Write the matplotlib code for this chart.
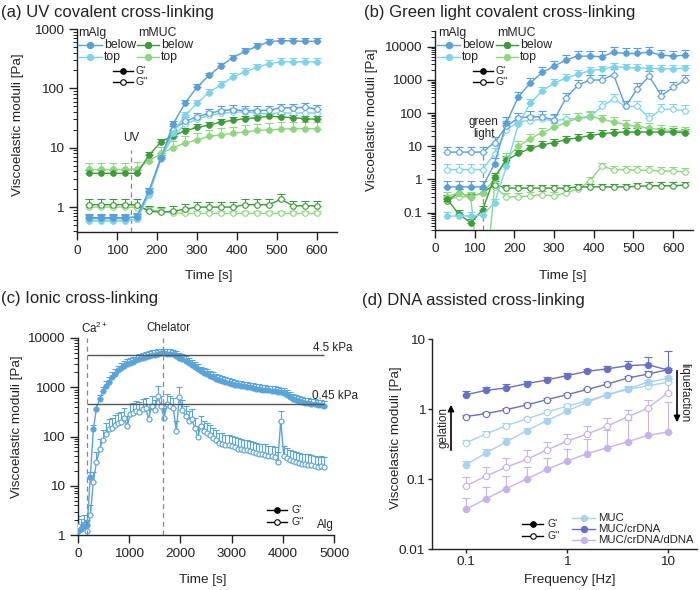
import numpy as np
import matplotlib
matplotlib.use("Agg")
import matplotlib.pyplot as plt
from matplotlib.lines import Line2D
from matplotlib.patches import FancyArrowPatch
from matplotlib.ticker import LogLocator, NullFormatter, FixedLocator, NullLocator

plt.rcParams['font.family'] = ['Liberation Sans', 'DejaVu Sans']
plt.rcParams['mathtext.fontset'] = 'custom'
plt.rcParams['mathtext.rm'] = 'Liberation Sans'
plt.rcParams['mathtext.it'] = 'Liberation Sans:italic'
plt.rcParams['mathtext.bf'] = 'Liberation Sans:bold'

# ---------------- data ----------------
# (a) UV covalent cross-linking
a_time = [30, 60, 90, 120, 150, 180, 210, 240, 270, 300, 330, 360, 390, 420, 450, 480, 510, 540, 570, 600]
a_alg_below_G1 = [0.65, 0.65, 0.65, 0.66, 0.68, 1.9, 6.6, 25, 56, 105, 165, 240, 330, 420, 510, 610, 640, 630, 620, 620]
a_alg_top_G1 = [0.58, 0.58, 0.58, 0.59, 0.62, 1.6, 6.5, 18, 35, 56, 85, 115, 155, 190, 225, 260, 280, 280, 280, 280]
a_alg_below_G2 = [0.66, 0.66, 0.66, 0.66, 0.68, 1.8, 7, 20, 28, 33, 38, 42, 44, 42, 42, 43, 47, 47, 48, 45]
a_alg_top_G2 = [0.6, 0.6, 0.6, 0.6, 0.62, 1.7, 7, 15, 25, 30, 35, 38, 40, 40, 38, 37, 39, 38, 39, 38]
a_muc_below_G1 = [3.7, 3.7, 3.7, 3.7, 3.7, 7.5, 12.5, 16, 19, 22, 24, 27, 29, 31, 32, 34, 33, 32, 31, 30]
a_muc_top_G1 = [4.3, 4.3, 4.3, 4.3, 4.4, 6, 8, 10, 12, 13.5, 15.5, 16.5, 17.5, 18.5, 19.5, 20, 20.5, 21, 21, 21]
a_muc_below_G2 = [1.1, 1.1, 1.1, 1.1, 1.1, 0.85, 0.82, 0.85, 0.92, 1.0, 1.0, 1.0, 1.0, 1.1, 1.1, 1.1, 1.35, 1.05, 1.05, 1.05]
a_muc_top_G2 = [1.0, 1.0, 1.0, 1.0, 0.98, 0.9, 0.85, 0.8, 0.78, 0.78, 0.78, 0.78, 0.78, 0.78, 0.78, 0.78, 0.78, 0.78, 0.78, 0.78]
a_rel_err = {'alg_below_G1': 0.12, 'alg_top_G1': 0.15, 'alg_below_G2': 0.18, 'alg_top_G2': 0.18,
             'muc_below_G1': 0.12, 'muc_top_G1': 0.3, 'muc_below_G2': 0.22, 'muc_top_G2': 0.12}
a_uv_time = 135

# (b) Green light covalent cross-linking
b_time = [30, 60, 90, 120, 150, 180, 210, 240, 270, 300, 330, 360, 390, 420, 450, 480, 510, 540, 570, 600, 630]
b_alg_below_G1 = [0.6, 0.6, 0.6, 0.6, 3, 52, 310, 810, 1700, 2600, 4000, 5300, 5200, 5100, 6800, 6300, 6300, 7000, 5600, 5300, 5600]
b_alg_top_G1 = [0.078, 0.08, 0.08, 0.085, 0.2, 2.5, 46, 200, 470, 800, 1150, 1500, 1900, 2100, 2500, 2400, 2300, 2250, 2200, 2200, 2250]
b_alg_below_G2 = [6.7, 6.7, 6.7, 6.7, 13, 40, 72, 78, 78, 63, 285, 700, 1000, 1000, 1450, 160, 550, 1300, 335, 600, 1000]
b_alg_top_G2 = [2.0, 2.0, 2.0, 2.0, 6, 31, 55, 60, 65, 60, 65, 70, 75, 160, 265, 160, 160, 70, 130, 130, 120]
b_muc_below_G1 = [0.26, 0.09, 0.05, 0.12, 1.2, 3.8, 6.1, 8.7, 11, 13, 16, 18, 21, 24, 26, 27, 27, 27, 27, 27, 26]
b_muc_top_G1 = [0.3, 0.4, 0.3, 0.4, 1.0, 4.5, 10, 17, 26, 37, 52, 70, 83, 65, 55, 45, 40, 35, 32, 30, 28]
b_muc_below_G2 = [0.22, 0.4, 0.3, 0.4, 0.7, 0.55, 0.55, 0.55, 0.55, 0.55, 0.55, 0.6, 0.6, 0.6, 0.6, 0.6, 0.62, 0.65, 0.65, 0.65, 0.68]
b_muc_top_G2 = [0.25, 0.3, 0.3, 1e-4, 0.6, 0.3, 0.3, 0.32, 0.35, 0.32, 0.4, 0.5, 0.9, 2.5, 2.0, 2.0, 1.9, 1.9, 1.8, 1.8, 1.7]
b_rel_err = {'alg_below_G1': 0.45, 'alg_top_G1': 0.3, 'alg_below_G2': 0.45, 'alg_top_G2': 0.45,
             'muc_below_G1': 0.3, 'muc_top_G1': 0.4, 'muc_below_G2': 0.25, 'muc_top_G2': 0.3}
b_light_time = 120

# (c) Ionic cross-linking
c_time = list(range(0, 4801, 60))
c_G1 = [1.2, 1.3, 1.5, 1.6, 15, 140, 370, 570, 820, 1050,
        1280, 1620, 1900, 2200, 2450, 2750, 2950, 3150, 3300, 3550,
        3750, 3950, 4150, 4350, 4500, 4600, 4750, 4850, 4850, 4800,
        4750, 4650, 4400, 3950, 3700, 3400, 3100, 2800, 2550, 2350,
        2100, 1950, 1850, 1720, 1620, 1500, 1420, 1350, 1280, 1210,
        1170, 1130, 1090, 1060, 1040, 1020, 990, 960, 940, 910,
        890, 870, 860, 840, 830, 810, 790, 760, 700, 640,
        590, 550, 520, 500, 490, 475, 465, 455, 445, 435,
        425]
c_G2 = [1.5, 1.3, 1.6, 1.2, 2.5, 12, 30, 55, 85, 115,
        140, 150, 170, 185, 200, 240, 160, 280, 300, 330,
        310, 360, 380, 230, 420, 350, 650, 420, 240, 450,
        420, 380, 130, 640, 340, 260, 210, 230, 150, 100,
        160, 130, 120, 105, 95, 85, 75, 72, 68, 66,
        63, 60, 57, 55, 54, 52, 50, 48, 46, 45,
        44, 43, 41, 40, 38, 30, 210, 40, 36, 34,
        32, 30, 29, 28, 28, 27, 26, 25, 24, 25,
        24]
c_rel_err_G1 = 0.25
c_rel_err_G2 = 0.6
c_ca_time = 170
c_chelator_time = 1660
c_levels = [4500, 450]
c_level_labels = ['4.5 kPa', '0.45 kPa']

# (d) DNA assisted cross-linking
d_freq = [0.1, 0.158, 0.251, 0.398, 0.631, 1.0, 1.58, 2.51, 3.98, 6.31, 10.0]
d_muc_G1 = [0.16, 0.236, 0.34, 0.49, 0.68, 0.93, 1.25, 1.6, 1.95, 2.4, 2.75]
d_muc_G2 = [0.33, 0.44, 0.58, 0.72, 0.9, 1.1, 1.3, 1.6, 1.9, 2.15, 2.4]
d_cr_G1 = [1.6, 1.85, 2.0, 2.3, 2.6, 3.0, 3.45, 3.75, 4.15, 4.3, 3.6]
d_cr_G2 = [0.78, 0.86, 0.98, 1.14, 1.36, 1.6, 1.9, 2.27, 2.77, 3.15, 3.65]
d_dd_G1 = [0.037, 0.052, 0.073, 0.10, 0.137, 0.18, 0.23, 0.28, 0.34, 0.42, 0.47]
d_dd_G2 = [0.08, 0.11, 0.148, 0.19, 0.26, 0.345, 0.44, 0.57, 0.77, 1.03, 1.7]
d_muc_G1_err = [0.02, 0.03, 0.04, 0.05, 0.06, 0.08, 0.1, 0.12, 0.15, 0.2, 0.25]
d_muc_G2_err = [0.03, 0.04, 0.05, 0.06, 0.07, 0.08, 0.1, 0.12, 0.15, 0.2, 0.25]
d_cr_G1_err = [0.2, 0.2, 0.25, 0.25, 0.3, 0.3, 0.3, 0.35, 0.65, 1.2, 0.3]
d_cr_G2_err = [0.05, 0.05, 0.06, 0.07, 0.08, 0.1, 0.1, 0.15, 0.2, 0.3, 3.0]
d_dd_G1_err = [0.016, 0.026, 0.037, 0.05, 0.065, 0.09, 0.14, 0.22, 0.35, 0.6, 0.78]
d_dd_G2_err = [0.026, 0.038, 0.05, 0.07, 0.08, 0.1, 0.14, 0.17, 0.2, 0.3, 1.0]
d_labels = ['MUC', 'MUC/crDNA', 'MUC/crDNA/dDNA']

# ---------------- style ----------------
C_ALG_B = '#5a9fd6'
C_ALG_T = '#7dd4e8'
C_MUC_B = '#3d9b39'
C_MUC_T = '#8fd680'
C_C = '#5aa4da'
C_D = ['#a8d2ef', '#6a6ec6', '#c7b3ea']
AX_COL = '#222222'
FS_TICK = 9.7
FS_LAB = 9.7
FS_TITLE = 12
FS_LEG = 8.8
FS_G = 7.5
FS_ANN = 8.4

W, H = 700, 590
fig = plt.figure(figsize=(7, 5.9), dpi=100)


def ax_px(l, t, r, b):
    return fig.add_axes([l / W, 1 - b / H, (r - l) / W, (b - t) / H])


def ftext(x, y, s, **kw):
    kw.setdefault('va', 'center')
    kw.setdefault('ha', 'left')
    kw.setdefault('fontsize', FS_LAB)
    kw.setdefault('color', AX_COL)
    return fig.text(x / W, 1 - y / H, s, **kw)


def fline(x0, x1, y, color, filled=True, ms=4.5, lw=1.0):
    xm = (x0 + x1) / 2
    ln = Line2D([x0 / W, xm / W, x1 / W], [1 - y / H] * 3, transform=fig.transFigure,
                color=color, lw=lw, marker='o', markevery=[1], ms=ms,
                mfc=color if filled else 'white', mec=color, mew=0.8)
    fig.add_artist(ln)


def series(ax, x, y, err, color, filled, ms=4, lw=1.0, z=3, capsize=3):
    y = np.asarray(y, dtype=float)
    err = np.asarray(err, dtype=float)
    ax.errorbar(x, y, yerr=[np.zeros_like(y), err], fmt='none', ecolor=color,
                elinewidth=0.8, capsize=capsize, capthick=0.8, zorder=z - 1)
    ax.plot(x, y, '-', color=color, lw=lw, marker='o', ms=ms,
            mfc=color if filled else 'white', mec=color, mew=0.8, zorder=z)


def style(ax, yticks, ylabels, minor=True, tlen=6, pad=3.5):
    for s in ['top', 'right']:
        ax.spines[s].set_visible(False)
    for s in ['left', 'bottom']:
        ax.spines[s].set_linewidth(1.0)
        ax.spines[s].set_color(AX_COL)
    ax.set_yscale('log')
    ax.yaxis.set_major_locator(FixedLocator(yticks))
    ax.set_yticklabels(ylabels)
    if minor:
        ax.yaxis.set_minor_locator(LogLocator(base=10, subs=np.arange(2, 10), numticks=30))
    else:
        ax.yaxis.set_minor_locator(NullLocator())
    ax.yaxis.set_minor_formatter(NullFormatter())
    ax.tick_params(which='major', direction='out', length=tlen, width=1, labelsize=FS_TICK,
                   colors=AX_COL, pad=pad)
    ax.tick_params(which='minor', direction='out', length=3, width=0.7, colors=AX_COL)
    ax.set_facecolor('none')


# ================= (a) =================
axA = ax_px(77, 29, 337, 232)
style(axA, [1, 10, 100, 1000], ['1', '10', '100', '1000'])
axA.set_xlim(0, 650)
axA.set_ylim(0.38, 1000)
axA.set_xticks([0, 100, 200, 300, 400, 500, 600])
axA.xaxis.set_minor_locator(NullLocator())
series(axA, a_time, a_muc_top_G2, np.array(a_muc_top_G2) * a_rel_err['muc_top_G2'], C_MUC_T, False)
series(axA, a_time, a_muc_below_G2, np.array(a_muc_below_G2) * a_rel_err['muc_below_G2'], C_MUC_B, False)
series(axA, a_time, a_alg_top_G2, np.array(a_alg_top_G2) * a_rel_err['alg_top_G2'], C_ALG_T, False)
series(axA, a_time, a_alg_below_G2, np.array(a_alg_below_G2) * a_rel_err['alg_below_G2'], C_ALG_B, False)
series(axA, a_time, a_muc_top_G1, np.array(a_muc_top_G1) * a_rel_err['muc_top_G1'], C_MUC_T, True)
series(axA, a_time, a_muc_below_G1, np.array(a_muc_below_G1) * a_rel_err['muc_below_G1'], C_MUC_B, True)
series(axA, a_time, a_alg_top_G1, np.array(a_alg_top_G1) * a_rel_err['alg_top_G1'], C_ALG_T, True)
series(axA, a_time, a_alg_below_G1, np.array(a_alg_below_G1) * a_rel_err['alg_below_G1'], C_ALG_B, True)
axA.vlines(a_uv_time, 0.38, 9, colors='#888888', linestyles=(0, (4, 3)), lw=0.9, zorder=1)
axA.text(a_uv_time, 11.5, 'UV', ha='center', va='bottom', fontsize=FS_ANN, color=AX_COL)

ftext(1, 12, '(a) UV covalent cross-linking', fontsize=FS_TITLE)
ftext(18, 125, 'Viscoelastic moduli [Pa]', rotation=90, ha='center')
ftext(209, 276, 'Time [s]', ha='center')
# legend (a)
ftext(78, 33, 'mAlg', fontsize=FS_LEG)
ftext(138, 33, 'mMUC', fontsize=FS_LEG)
fline(78, 102, 45, C_ALG_B)
ftext(104, 45, 'below', fontsize=FS_LEG)
fline(78, 102, 57, C_ALG_T)
ftext(104, 57, 'top', fontsize=FS_LEG)
fline(137, 159, 45, C_MUC_B)
ftext(161, 45, 'below', fontsize=FS_LEG)
fline(137, 159, 57, C_MUC_T)
ftext(161, 57, 'top', fontsize=FS_LEG)
fline(113, 133, 71, 'black', True, ms=4)
ftext(135, 71, "G'", fontsize=FS_G)
fline(113, 133, 82, 'black', False, ms=4)
ftext(135, 82, "G''", fontsize=FS_G)

# ================= (b) =================
axB = ax_px(435, 31, 693, 230)
style(axB, [0.1, 1, 10, 100, 1000, 10000], ['0.1', '1', '10', '100', '1000', '10000'])
axB.set_xlim(0, 650)
axB.set_ylim(0.03, 30000)
axB.set_xticks([0, 100, 200, 300, 400, 500, 600])
axB.xaxis.set_minor_locator(NullLocator())
series(axB, b_time, b_muc_top_G2, np.array(b_muc_top_G2) * b_rel_err['muc_top_G2'], C_MUC_T, False)
series(axB, b_time, b_muc_below_G2, np.array(b_muc_below_G2) * b_rel_err['muc_below_G2'], C_MUC_B, False)
series(axB, b_time, b_alg_top_G2, np.array(b_alg_top_G2) * b_rel_err['alg_top_G2'], C_ALG_T, False)
series(axB, b_time, b_alg_below_G2, np.array(b_alg_below_G2) * b_rel_err['alg_below_G2'], C_ALG_B, False)
series(axB, b_time, b_muc_top_G1, np.array(b_muc_top_G1) * b_rel_err['muc_top_G1'], C_MUC_T, True)
series(axB, b_time, b_muc_below_G1, np.array(b_muc_below_G1) * b_rel_err['muc_below_G1'], C_MUC_B, True)
series(axB, b_time, b_alg_top_G1, np.array(b_alg_top_G1) * b_rel_err['alg_top_G1'], C_ALG_T, True)
series(axB, b_time, b_alg_below_G1, np.array(b_alg_below_G1) * b_rel_err['alg_below_G1'], C_ALG_B, True)
axB.vlines(b_light_time, 0.03, 12, colors='#888888', linestyles=(0, (4, 3)), lw=0.9, zorder=1)
axB.text(b_light_time + 3, 15, 'green\nlight', ha='center', va='bottom', fontsize=FS_ANN,
         color=AX_COL, linespacing=1.05)

ftext(364, 12, '(b) Green light covalent cross-linking', fontsize=FS_TITLE)
ftext(372, 120, 'Viscoelastic moduli [Pa]', rotation=90, ha='center')
ftext(563, 276, 'Time [s]', ha='center')
ftext(438, 33, 'mAlg', fontsize=FS_LEG)
ftext(497, 33, 'mMUC', fontsize=FS_LEG)
fline(437, 460, 45, C_ALG_B)
ftext(462, 45, 'below', fontsize=FS_LEG)
fline(437, 460, 57, C_ALG_T)
ftext(462, 57, 'top', fontsize=FS_LEG)
fline(496, 518, 45, C_MUC_B)
ftext(520, 45, 'below', fontsize=FS_LEG)
fline(496, 518, 57, C_MUC_T)
ftext(520, 57, 'top', fontsize=FS_LEG)
fline(473, 493, 71, 'black', True, ms=4)
ftext(496, 71, "G'", fontsize=FS_G)
fline(473, 493, 82, 'black', False, ms=4)
ftext(496, 82, "G''", fontsize=FS_G)

# ================= (c) =================
axC = ax_px(78, 338, 334, 535)
style(axC, [1, 10, 100, 1000, 10000], ['1', '10', '100', '1000', '10000'])
axC.set_xlim(0, 5000)
axC.set_ylim(1, 10000)
axC.set_xticks([0, 1000, 2000, 3000, 4000, 5000])
axC.xaxis.set_minor_locator(NullLocator())
series(axC, c_time, c_G2, np.array(c_G2) * c_rel_err_G2, C_C, False, ms=3.6, capsize=2.5)
series(axC, c_time, c_G1, np.array(c_G1) * c_rel_err_G1, C_C, True, ms=3.6, capsize=2.5)
for lev in c_levels:
    axC.hlines(lev, c_ca_time, 4800, colors='#555555', lw=1.0, zorder=5)
for t in (c_ca_time, c_chelator_time):
    axC.vlines(t, 1, 10000, colors='#888888', linestyles=(0, (4, 3)), lw=0.9, zorder=6)
ftext(313, 348, c_level_labels[0], fontsize=FS_ANN)
ftext(312, 396, c_level_labels[1], fontsize=FS_ANN)
ftext(81, 328, 'Ca$^{2+}$', fontsize=FS_ANN)
ftext(168, 328, 'Chelator', ha='center', fontsize=FS_ANN)

ftext(1, 298, '(c) Ionic cross-linking', fontsize=FS_TITLE)
ftext(17, 427, 'Viscoelastic moduli [Pa]', rotation=90, ha='center')
ftext(203, 580, 'Time [s]', ha='center')
fline(267, 287, 510, 'black', True, ms=4)
ftext(292, 510, "G'", fontsize=FS_G)
fline(267, 287, 522, 'black', False, ms=4)
ftext(292, 522, "G''", fontsize=FS_G)
ftext(317, 525, 'Alg', fontsize=FS_ANN)

# ================= (d) =================
axD = ax_px(432, 339, 697, 549)
style(axD, [0.01, 0.1, 1, 10], ['0.01', '0.1', '1', '10'], minor=False, tlen=3, pad=2)
axD.set_xscale('log')
axD.set_xlim(0.046, 19.4)
axD.set_ylim(0.01, 10)
axD.xaxis.set_major_locator(FixedLocator([0.1, 1, 10]))
axD.set_xticklabels(['0.1', '1', '10'])
axD.xaxis.set_minor_locator(NullLocator())
series(axD, d_freq, d_dd_G2, d_dd_G2_err, C_D[2], False, ms=4.5, capsize=3)
series(axD, d_freq, d_muc_G2, d_muc_G2_err, C_D[0], False, ms=4.5, capsize=3)
series(axD, d_freq, d_cr_G2, d_cr_G2_err, C_D[1], False, ms=4.5, capsize=3)
series(axD, d_freq, d_dd_G1, d_dd_G1_err, C_D[2], True, ms=4.5, capsize=3)
series(axD, d_freq, d_muc_G1, d_muc_G1_err, C_D[0], True, ms=4.5, capsize=3)
series(axD, d_freq, d_cr_G1, d_cr_G1_err, C_D[1], True, ms=4.5, capsize=3)

ftext(362, 300, '(d) DNA assisted cross-linking', fontsize=FS_TITLE)
ftext(396, 438, 'Viscoelastic moduli [Pa]', rotation=90, ha='center')
ftext(570, 580, 'Frequency [Hz]', ha='center')
# gelation / liquefaction arrows
fig.add_artist(FancyArrowPatch((451 / W, 1 - 453 / H), (451 / W, 1 - 402 / H),
                               transform=fig.transFigure, arrowstyle='-|>',
                               mutation_scale=9, lw=1.2, color='black'))
ftext(444, 427, 'gelation', rotation=90, ha='center', fontsize=FS_ANN)
fig.add_artist(FancyArrowPatch((677 / W, 1 - 368 / H), (677 / W, 1 - 425 / H),
                               transform=fig.transFigure, arrowstyle='-|>',
                               mutation_scale=9, lw=1.2, color='black'))
ftext(684, 393, 'liquefaction', rotation=270, ha='center', fontsize=FS_ANN)
# legend (d)
fline(522, 543, 524, 'black', True, ms=4)
ftext(547, 524, "G'", fontsize=FS_G)
fline(522, 543, 536, 'black', False, ms=4)
ftext(547, 536, "G''", fontsize=FS_G)
for i, lab in enumerate(d_labels):
    y = 518 + 11 * i
    fline(572, 595, y, C_D[i], True, ms=4.5)
    ftext(598, y, lab, fontsize=8.2)

fig.savefig('out.png', dpi=100)
